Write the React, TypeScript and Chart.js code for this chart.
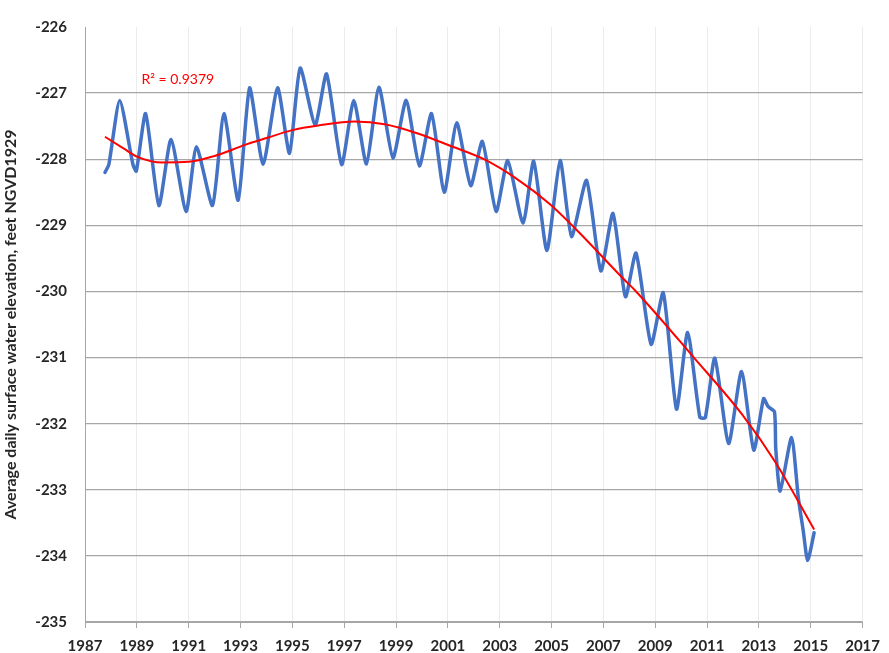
import React, { useEffect, useRef } from "react";
import { Chart, registerables } from "chart.js";

Chart.register(...registerables);

// Axis ranges / ticks
const X_MIN = 1987;
const X_MAX = 2017;
const X_STEP = 2;
const Y_MIN = -235;
const Y_MAX = -226;
const Y_STEP = 1;

const yAxisTitle = "Average daily surface water elevation, feet NGVD1929";

// Average daily surface water elevation (peaks / troughs)
const elevationYears = [
  1987.77, 1987.92, 1988.34, 1988.85, 1988.98, 1989.34, 1989.85, 1990.32, 1990.9, 1991.3,
  1991.92, 1992.36, 1992.91, 1993.35, 1993.87, 1994.43, 1994.89, 1995.3, 1995.88, 1996.32,
  1996.9, 1997.37, 1997.86, 1998.34, 1998.88, 1999.39, 1999.9, 2000.37, 2000.86, 2001.34,
  2001.88, 2002.33, 2002.86, 2003.31, 2003.9, 2004.31, 2004.82, 2005.33, 2005.77, 2006.35,
  2006.9, 2007.37, 2007.85, 2008.26, 2008.84, 2009.31, 2009.82, 2010.25, 2010.72, 2010.93,
  2011.3, 2011.83, 2012.33, 2012.8, 2013.18, 2013.35, 2013.6, 2013.65, 2013.82, 2014.26,
  2014.52, 2014.71, 2014.88, 2015.13,
];
const elevationValues = [
  -228.2, -228.08, -227.11, -228.08, -228.18, -227.31, -228.7, -227.7, -228.79, -227.81,
  -228.7, -227.31, -228.62, -226.92, -228.08, -226.92, -227.91, -226.62, -227.48, -226.71,
  -228.08, -227.11, -228.07, -226.91, -227.98, -227.11, -228.1, -227.31, -228.5, -227.45,
  -228.4, -227.73, -228.79, -228.02, -228.97, -228.03, -229.38, -228.02, -229.17, -228.32,
  -229.69, -228.82, -230.08, -229.42, -230.8, -230.02, -231.78, -230.62, -231.9, -231.91,
  -231.01, -232.3, -231.21, -232.4, -231.62, -231.74, -231.82, -232.38, -233.02, -232.21,
  -233.12, -233.62, -234.07, -233.65,
];

// Polynomial trend line
const trendYears = [
  1987.77, 1988.5, 1989.0, 1990.0, 1991.0, 1992.0, 1993.2, 1994.0, 1995.0, 1996.0,
  1997.4, 1998.56, 1999.84, 2001.11, 2002.39, 2003.67, 2004.94, 2005.97, 2007.75, 2008.26,
  2010.49, 2012.35, 2013.63, 2015.13,
];
const trendValues = [
  -227.66, -227.84, -227.96, -228.05, -228.04, -227.95, -227.78, -227.68, -227.56, -227.49,
  -227.43, -227.47, -227.61, -227.8, -228.0, -228.3, -228.68, -229.07, -229.8, -230.0,
  -231.0, -231.86, -232.58, -233.6,
];

const r2Label = "R\u00B2 = 0.9379";
const r2LabelYear = 1989.18;
const r2LabelValue = -226.8;

const FONT = "Lato, 'Liberation Sans', sans-serif";

const r2Plugin = {
  id: "r2Label",
  afterDatasetsDraw(chart: any) {
    const { ctx, scales } = chart;
    const x = scales.x;
    const y = scales.y;
    ctx.save();
    ctx.font = `14px ${FONT}`;
    ctx.fillStyle = "#ff0000";
    ctx.textAlign = "left";
    ctx.textBaseline = "middle";
    ctx.fillText(r2Label, x.getPixelForValue(r2LabelYear), y.getPixelForValue(r2LabelValue));
    ctx.restore();
  },
};

export default function App() {
  const canvasRef = useRef<HTMLCanvasElement | null>(null);

  useEffect(() => {
    document.body.style.margin = "0";
    const canvas = canvasRef.current;
    if (!canvas) return;

    const elevation = elevationYears.map((yr, i) => ({ x: yr, y: elevationValues[i] }));
    const trend = trendYears.map((yr, i) => ({ x: yr, y: trendValues[i] }));

    const chart = new Chart(canvas, {
      type: "line",
      data: {
        datasets: [
          {
            label: "Trend",
            data: trend,
            borderColor: "#ff0000",
            borderWidth: 2,
            pointRadius: 0,
            cubicInterpolationMode: "monotone",
            fill: false,
            order: 0,
          },
          {
            label: "Elevation",
            data: elevation,
            borderColor: "#4472C4",
            borderWidth: 3.5,
            borderJoinStyle: "round",
            borderCapStyle: "round",
            pointRadius: 0,
            tension: 0.2,
            fill: false,
            order: 1,
          },
        ],
      },
      options: {
        animation: false,
        responsive: false,
        maintainAspectRatio: false,
        devicePixelRatio: 1,
        layout: { padding: { top: 20, right: 21, bottom: 0, left: 0 } },
        plugins: {
          legend: { display: false },
          tooltip: { enabled: false },
        },
        scales: {
          x: {
            type: "linear",
            min: X_MIN,
            max: X_MAX,
            afterFit: (scale: any) => {
              scale.height = 31;
            },
            ticks: {
              stepSize: X_STEP,
              padding: 9,
              color: "#262626",
              font: { family: FONT, size: 15, weight: "bold" },
              callback: (v: any) => String(v),
              maxRotation: 0,
              autoSkip: false,
            },
            grid: {
              color: "#ececec",
              tickColor: "#a6a6a6",
              tickLength: 6,
              lineWidth: 1,
            },
            border: { color: "#a6a6a6", width: 1 },
          },
          y: {
            type: "linear",
            min: Y_MIN,
            max: Y_MAX,
            afterFit: (scale: any) => {
              scale.width = 85;
            },
            ticks: {
              stepSize: Y_STEP,
              padding: 18,
              color: "#262626",
              font: { family: FONT, size: 15, weight: "bold" },
              callback: (v: any) => String(v),
            },
            grid: {
              drawTicks: false,
              color: (ctx: any) => (ctx.tick && ctx.tick.value === Y_MAX ? "rgba(0,0,0,0)" : "#a6a6a6"),
              lineWidth: 1.3,
            },
            border: { color: "#a6a6a6", width: 1 },
            title: {
              display: true,
              text: yAxisTitle,
              color: "#262626",
              font: { family: FONT, size: 16, weight: "bold" },
              padding: { top: 1, bottom: 0 },
            },
          },
        },
      },
      plugins: [r2Plugin],
    });

    return () => chart.destroy();
  }, []);

  return (
    <div style={{ width: 889, height: 653, background: "#ffffff" }}>
      <canvas ref={canvasRef} width={889} height={653} style={{ display: "block" }} />
    </div>
  );
}
